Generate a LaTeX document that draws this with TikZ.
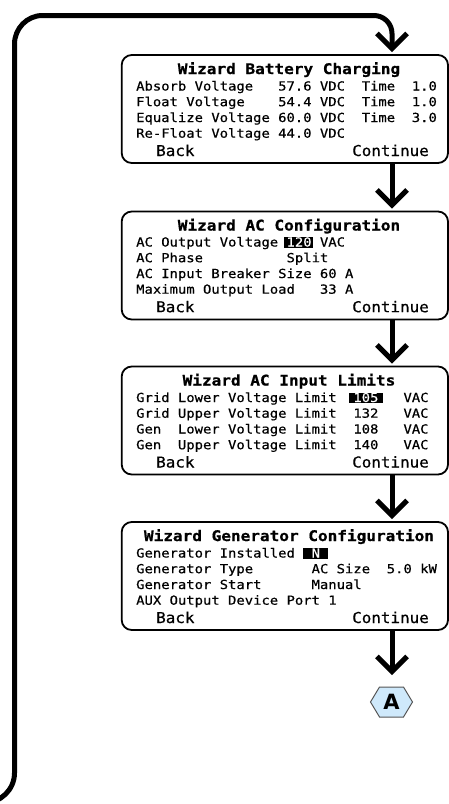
\documentclass[tikz,border=0pt]{standalone}
\usepackage{fontspec}
\newfontfamily\monofam[FakeStretch=1.11,FakeBold=0.5]{DejaVu Sans Mono}
\newfontfamily\ttlfam[FakeStretch=1.1,FakeBold=0.8]{DejaVu Sans Mono Bold}
\newfontfamily\btnfam[FakeStretch=1.06,FakeBold=0.5]{DejaVu Sans Mono}
\newfontfamily\hexfam{DejaVu Sans}
\usetikzlibrary{arrows.meta}
\definecolor{hexfill}{HTML}{CFE9FB}
\definecolor{hexline}{HTML}{555555}
\newcommand\hlt[3]{\kern-#1\relax\begingroup\setlength{\fboxsep}{0pt}\colorbox{black}{\rule[-1.3pt]{0pt}{10.5pt}\kern#1\relax\textcolor{white}{#3}\kern#2\relax}\endgroup\kern-#2\relax}
\begin{document}
\begin{tikzpicture}[x=1pt,y=-1pt,
  screen/.style={draw, line width=1.8pt, rounded corners=10pt, fill=white, inner sep=0pt, outer sep=0pt,
    minimum width=326.3pt, minimum height=108pt, anchor=north west},
  ttl/.style={inner sep=0pt, anchor=base, font=\ttlfam\fontsize{14.6}{16}\selectfont},
  row/.style={inner sep=0pt, anchor=base west, font=\monofam\fontsize{12.5}{15}\selectfont},
  btn/.style={inner sep=0pt, font=\btnfam\fontsize{15}{17}\selectfont},
  flow/.style={line width=5pt, -{Straight Barb[length=15pt,width=30pt]}},
]
\useasboundingbox (0,0) rectangle (449,804);
\coordinate (ax) at (392,0);

% ---------- screen 1
\node[screen] (b1) at (121.7,55) {};
\node[ttl] (t1) at (289,74) {Wizard Battery Charging};
\node[row] (r11) at (136,90.5) {Absorb Voltage~~~57.6 VDC~~Time~~1.0};
\node[row] (r12) at (136,106.2) {Float Voltage~~~~54.4 VDC~~Time~~1.0};
\node[row] (r13) at (136,122) {Equalize Voltage 60.0 VDC~~Time~~3.0};
\node[row] (r14) at (136,137.7) {Re-Float Voltage 44.0 VDC};
\node[btn, anchor=base west] (k1) at (156,156) {Back};
\node[btn, anchor=base east] (c1) at (429,156) {Continue};

% ---------- screen 2
\node[screen] (b2) at (121.7,211.5) {};
\node[ttl] (t2) at (289,230.5) {Wizard AC Configuration};
\node[row] (r21) at (136,246.5) {AC Output Voltage \hlt{3pt}{1pt}{120} VAC};
\node[row] (r22) at (136,262.2) {AC Phase~~~~~~~~~~Split};
\node[row] (r23) at (136,278) {AC Input Breaker Size 60 A};
\node[row] (r24) at (136,293.7) {Maximum Output Load~~~33 A};
\node[btn, anchor=base west] (k2) at (156,312.2) {Back};
\node[btn, anchor=base east] (c2) at (429,312.2) {Continue};

% ---------- screen 3
\node[screen] (b3) at (121.7,366.5) {};
\node[ttl] (t3) at (289,385.5) {Wizard AC Input Limits};
\node[row] (r31) at (136,402) {Grid Lower Voltage Limit~~\hlt{4pt}{5pt}{105}~~~VAC};
\node[row] (r32) at (136,417.7) {Grid Upper Voltage Limit~~132~~~VAC};
\node[row] (r33) at (136,433.5) {Gen~~Lower Voltage Limit~~108~~~VAC};
\node[row] (r34) at (136,449.2) {Gen~~Upper Voltage Limit~~140~~~VAC};
\node[btn, anchor=base west] (k3) at (156,467.5) {Back};
\node[btn, anchor=base east] (c3) at (429,467.5) {Continue};

% ---------- screen 4
\node[screen] (b4) at (121.7,522) {};
\node[ttl] (t4) at (289,541) {Wizard Generator Configuration};
\node[row] (r41) at (136,557.5) {Generator Installed \hlt{0pt}{0pt}{~N~}};
\node[row] (r42) at (136,573.2) {Generator Type~~~~~~~AC Size~~5.0 kW};
\node[row] (r43) at (136,589) {Generator Start~~~~~~Manual};
\node[row] (r44) at (136,604.7) {AUX Output Device Port 1};
\node[btn, anchor=base west] (k4) at (156,623) {Back};
\node[btn, anchor=base east] (c4) at (429,623) {Continue};

% ---------- connector A
\coordinate (hc) at (391.5,702);
\filldraw[fill=hexfill, draw=hexline, line width=1pt, shift={(hc)}]
  (-21,0) -- (-12,-15) -- (12,-15) -- (21,0) -- (12,15) -- (-12,15) -- cycle;
\node[font=\hexfam\bfseries\fontsize{21}{22}\selectfont, inner sep=0pt, outer sep=0pt,
  minimum width=42pt, minimum height=30pt] (A) at (hc) {A};

% ---------- arrows
\coordinate (e1) at ([yshift=3pt]b1.north);
\coordinate (e2) at ([yshift=3pt]b2.north);
\coordinate (e3) at ([yshift=3pt]b3.north);
\coordinate (e4) at ([yshift=3pt]b4.north);
\coordinate (eA) at ([yshift=12pt]A.north);
\draw[flow] (b1.south -| ax) -- (e2 -| ax);
\draw[flow] (b2.south -| ax) -- (e3 -| ax);
\draw[flow] (b3.south -| ax) -- (e4 -| ax);
\draw[flow] (b4.south -| ax) -- (eA -| ax);
\draw[flow] (-16,803) .. controls (0.6,803) and (14.5,789.6) .. (14.5,773)
  -- (14.5,44) .. controls (14.5,28.5) and (27,15.5) .. (42.5,15.5)
  -- (374,15.5) .. controls (383.9,15.5) and (392,23.6) .. (392,33.5)
  -- (e1 -| ax);
\end{tikzpicture}
\end{document}
